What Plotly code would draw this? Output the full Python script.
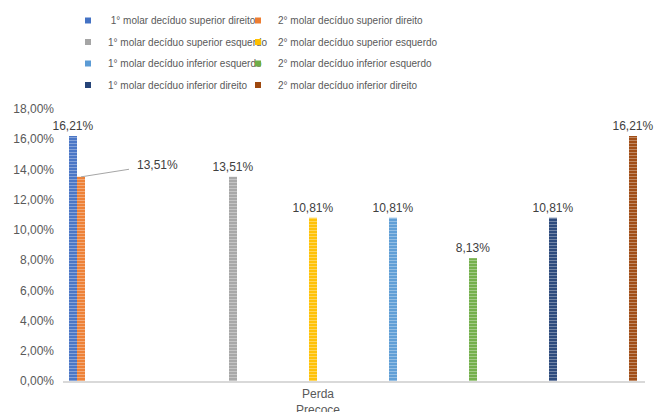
import plotly.graph_objects as go

# ---- data -------------------------------------------------------------
categories = ["Perda Precoce"]
category_labels = ["Perda<br>Precoce"]

series_names = [
    " 1° molar decíduo superior direito",
    "2° molar decíduo superior direito",
    "1° molar decíduo superior esquerdo",
    "2° molar decíduo superior esquerdo",
    "1° molar decíduo inferior esquerdo",
    "2° molar decíduo inferior esquerdo",
    "1° molar decíduo inferior direito",
    "2° molar decíduo inferior direito",
]
values = [0.1621, 0.1351, 0.1351, 0.1081, 0.1081, 0.0813, 0.1081, 0.1621]
y_ticks = [0.00, 0.02, 0.04, 0.06, 0.08, 0.10, 0.12, 0.14, 0.16, 0.18]

# ---- styling ----------------------------------------------------------
colors = ["#4472C4", "#ED7D31", "#A5A5A5", "#FFC000",
          "#5B9BD5", "#70AD47", "#264478", "#9E480E"]
# bar slot inside the category (units of bar pitch)
slots = [0, 0.1, 2, 3, 4, 5, 6, 7]
# which legend column each series goes to
legend_ids = ["legend", "legend2"] * 4

W, H = 655, 412
M_L, M_R, M_T, M_B = 63, 10, 109, 31
PLOT_W = W - M_L - M_R
PX_PER_UNIT = 640.0          # x-axis scale, px per category unit
PITCH = 80 / PX_PER_UNIT     # distance between bar slots
BAR_W = 8 / PX_PER_UNIT      # bar width
FIRST = -245 / PX_PER_UNIT   # centre of slot 0 relative to the category
CAT_PX = 255                 # category position from plot left, px

FONT = "Liberation Sans, Arial, sans-serif"
LABEL_CLR = "#404040"
AXIS_CLR = "#595959"


def slot_center(s):
    return FIRST + s * PITCH


fig = go.Figure()

for name, val, col, slot, leg in zip(series_names, values, colors, slots, legend_ids):
    centre = slot_center(slot)
    # the right-hand neighbour of the first bar gets a callout label instead
    inline_label = slot == int(slot)
    fig.add_trace(go.Bar(
        x=categories,
        y=[val],
        name=name,
        legendgroup=name,
        showlegend=False,
        offset=centre - BAR_W / 2,
        width=BAR_W,
        marker=dict(
            color=col,
            line=dict(width=0),
            pattern=dict(shape="-", bgcolor=col, fgcolor="white",
                         fgopacity=0.35, size=3, solidity=0.4),
        ),
        texttemplate="%{y:.2%}" if inline_label else None,
        textposition="outside" if inline_label else "none",
        textfont=dict(family=FONT, size=12, color=LABEL_CLR),
        constraintext="none",
        cliponaxis=False,
        hovertemplate=name + ": %{y:.2%}<extra></extra>",
    ))
    # small square legend entry linked to the bar
    fig.add_trace(go.Scatter(
        x=[None], y=[None],
        mode="markers",
        name=name,
        legendgroup=name,
        legend=leg,
        marker=dict(symbol="square", size=6, color=col),
        hoverinfo="skip",
    ))
    if not inline_label:
        fig.add_annotation(
            x=centre, y=val, xref="x", yref="y",
            text=format(val * 100, ".2f").replace(".", ",") + "%",
            showarrow=True, arrowhead=0, arrowwidth=1, arrowcolor="#A6A6A6",
            ax=76, ay=-12, standoff=0, borderpad=7,
            font=dict(family=FONT, size=12, color=LABEL_CLR),
        )

x_lo = -CAT_PX / PX_PER_UNIT
x_hi = x_lo + PLOT_W / PX_PER_UNIT

legend_common = dict(
    xref="container", yref="container",
    xanchor="left", yanchor="top",
    orientation="v",
    font=dict(family=FONT, size=10, color=AXIS_CLR),
    bgcolor="rgba(0,0,0,0)",
    tracegroupgap=2.5,
)

fig.update_layout(
    width=W, height=H,
    margin=dict(l=M_L, r=M_R, t=M_T, b=M_B, pad=0, autoexpand=False),
    paper_bgcolor="white",
    plot_bgcolor="white",
    barmode="overlay",
    separators=",.",
    font=dict(family=FONT, size=12, color=AXIS_CLR),
    legend=dict(x=68 / W, y=1 - 6 / H, **legend_common),
    legend2=dict(x=238 / W, y=1 - 6 / H, **legend_common),
    xaxis=dict(
        type="category",
        range=[x_lo, x_hi],
        tickmode="array",
        tickvals=categories,
        ticktext=category_labels,
        showgrid=False,
        zeroline=False,
        showline=True,
        linecolor="#D9D9D9",
        linewidth=1.5,
        ticks="",
        ticklabelstandoff=1,
        tickfont=dict(family=FONT, size=12, color=AXIS_CLR),
        fixedrange=True,
    ),
    yaxis=dict(
        range=[0, 0.18],
        tickmode="array",
        tickvals=y_ticks,
        tickformat=".2%",
        showgrid=False,
        zeroline=False,
        showline=False,
        ticks="",
        ticklabelstandoff=8,
        tickfont=dict(family=FONT, size=12, color=AXIS_CLR),
        fixedrange=True,
    ),
)

fig.write_html("out.html")
